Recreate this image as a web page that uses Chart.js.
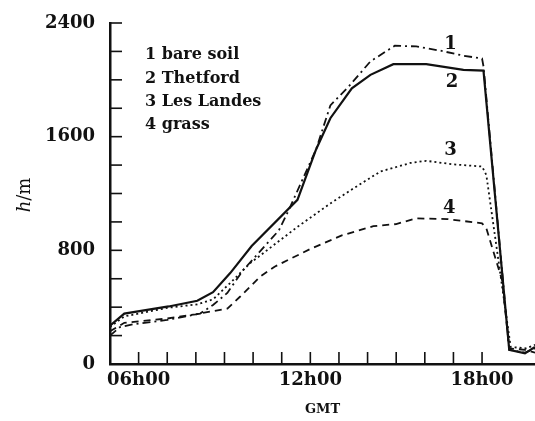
<!DOCTYPE html>
<html>
<head>
<meta charset="utf-8">
<script src="https://cdn.jsdelivr.net/npm/chart.js@4/dist/chart.umd.min.js"></script>
<style>
  html, body { margin: 0; padding: 0; background: #fff; }
</style>
</head>
<body>
<canvas id="myChart" width="535" height="421"></canvas>
<script>
// hours (GMT) and boundary-layer depth h (m)
const hoursBareSoil = [5.0, 5.35, 5.8, 7.0, 8.15, 8.6, 9.1, 9.65, 10.9, 11.25, 12.2, 12.7, 13.35, 14.1, 14.95, 15.7, 16.55, 17.35, 18.0, 18.05, 18.95, 19.5, 19.85];
const bareSoil = [200, 260, 280, 310, 355, 415, 500, 660, 940, 1085, 1510, 1820, 1955, 2130, 2240, 2235, 2205, 2170, 2150, 2095, 100, 80, 110];

const hoursThetford = [5.0, 5.5, 7.05, 8.05, 8.6, 9.2, 9.95, 11.55, 12.2, 12.7, 13.45, 14.1, 14.9, 16.05, 17.35, 18.05, 18.95, 19.5, 19.85];
const thetford = [270, 355, 405, 445, 505, 640, 830, 1155, 1510, 1730, 1940, 2035, 2110, 2110, 2070, 2065, 100, 75, 120];

const hoursLesLandes = [5.0, 5.5, 7.0, 8.05, 8.6, 9.2, 9.9, 11.55, 12.7, 13.5, 14.45, 15.5, 16.05, 17.0, 18.0, 18.15, 19.0, 19.55, 19.85];
const lesLandes = [260, 335, 395, 420, 455, 570, 710, 965, 1130, 1235, 1355, 1415, 1430, 1405, 1390, 1330, 120, 110, 135];

const hoursGrass = [5.0, 5.5, 7.0, 8.0, 9.1, 9.55, 10.25, 10.75, 12.0, 13.1, 14.2, 15.0, 15.7, 16.8, 18.0, 18.15, 18.7, 18.95, 19.5, 19.85];
const grass = [230, 290, 320, 350, 390, 475, 615, 685, 810, 905, 970, 985, 1025, 1020, 990, 955, 590, 110, 100, 80];

const legendLines = ["1 bare soil", "2 Thetford", "3 Les Landes", "4 grass"];
const curveTags = [
  { text: "1", x: 16.9, y: 2250 },
  { text: "2", x: 16.95, y: 1985 },
  { text: "3", x: 16.9, y: 1505 },
  { text: "4", x: 16.85, y: 1095 }
];
const xLabels = { 6: "06h00", 12: "12h00", 18: "18h00" };
const yLabels = [0, 800, 1600, 2400];

const ink = "#111";
const serif = "'DejaVu Serif', 'Liberation Serif', serif";

function pts(xs, ys) {
  return xs.map((x, i) => ({ x: x, y: ys[i] }));
}

const decorations = {
  id: "decorations",
  afterDraw(chart) {
    const { ctx, chartArea: a, scales: { x, y } } = chart;
    ctx.save();
    ctx.strokeStyle = ink;
    ctx.lineWidth = 1.6;
    // inward tick marks
    x.ticks.forEach(t => {
      if (!Number.isInteger(t.value) || t.value === x.min) return;
      const px = x.getPixelForValue(t.value);
      ctx.beginPath();
      ctx.moveTo(px, a.bottom);
      ctx.lineTo(px, a.bottom - 12);
      ctx.stroke();
    });
    y.ticks.forEach(t => {
      if (t.value === 0) return;
      const py = y.getPixelForValue(t.value);
      ctx.beginPath();
      ctx.moveTo(a.left, py);
      ctx.lineTo(a.left + 12, py);
      ctx.stroke();
    });

    ctx.fillStyle = ink;
    // legend text
    ctx.font = "bold 16px " + serif;
    ctx.textAlign = "left";
    ctx.textBaseline = "middle";
    legendLines.forEach((s, i) => {
      ctx.fillText(s, a.left + 35, a.top + 32 + i * 23.4);
    });

    // curve numbers
    ctx.font = "bold 18px " + serif;
    ctx.textAlign = "center";
    curveTags.forEach(c => {
      ctx.fillText(c.text, x.getPixelForValue(c.x), y.getPixelForValue(c.y));
    });

    // y axis title: h/m
    ctx.translate(25, 195);
    ctx.rotate(-Math.PI / 2);
    ctx.textBaseline = "middle";
    ctx.textAlign = "left";
    ctx.font = "italic 18px " + serif;
    const wH = ctx.measureText("h").width;
    ctx.font = "18px " + serif;
    const wR = ctx.measureText("/m").width;
    const start = -(wH + wR) / 2;
    ctx.font = "italic 18px " + serif;
    ctx.fillText("h", start, 0);
    ctx.font = "18px " + serif;
    ctx.fillText("/m", start + wH, 0);
    ctx.restore();
  }
};

const lineStyle = {
  pointRadius: 0,
  tension: 0,
  fill: false,
  borderColor: ink,
  borderWidth: 1.8
};

const ctx = document.getElementById("myChart").getContext("2d");
const chart = new Chart(ctx, {
  type: "line",
  data: {
    datasets: [
      Object.assign({ label: "1 bare soil", data: pts(hoursBareSoil, bareSoil), borderDash: [8, 4, 2, 4] }, lineStyle),
      Object.assign({ label: "2 Thetford", data: pts(hoursThetford, thetford) }, lineStyle, { borderWidth: 2.2 }),
      Object.assign({ label: "3 Les Landes", data: pts(hoursLesLandes, lesLandes), borderDash: [2, 3] }, lineStyle),
      Object.assign({ label: "4 grass", data: pts(hoursGrass, grass), borderDash: [7, 5] }, lineStyle)
    ]
  },
  options: {
    responsive: false,
    animation: false,
    layout: { padding: { top: 23, left: 0, right: 0, bottom: 0 } },
    plugins: {
      legend: { display: false },
      tooltip: { enabled: false }
    },
    scales: {
      x: {
        type: "linear",
        min: 5,
        max: 19.85,
        grid: { display: false, drawTicks: false },
        border: { display: true, color: ink, width: 2.5 },
        ticks: {
          stepSize: 1,
          autoSkip: false,
          maxRotation: 0,
          padding: 6,
          color: ink,
          font: { family: serif, size: 18, weight: "bold" },
          callback: v => xLabels[v] || ""
        },
        title: {
          display: true,
          text: "GMT",
          color: ink,
          padding: { top: 8 },
          font: { family: serif, size: 13, weight: "bold" }
        },
        afterFit: s => { s.height = 57; s.paddingLeft = 0; s.paddingRight = 0; }
      },
      y: {
        min: 0,
        max: 2400,
        grid: { display: false, drawTicks: false },
        border: { display: true, color: ink, width: 2.5 },
        ticks: {
          stepSize: 200,
          autoSkip: false,
          padding: 15,
          color: ink,
          font: { family: serif, size: 18, weight: "bold" },
          callback: v => (yLabels.includes(v) ? String(v) : "")
        },
        afterFit: s => { s.width = 110; s.paddingTop = 0; s.paddingBottom = 0; }
      }
    }
  },
  plugins: [decorations]
});
</script>
</body>
</html>
